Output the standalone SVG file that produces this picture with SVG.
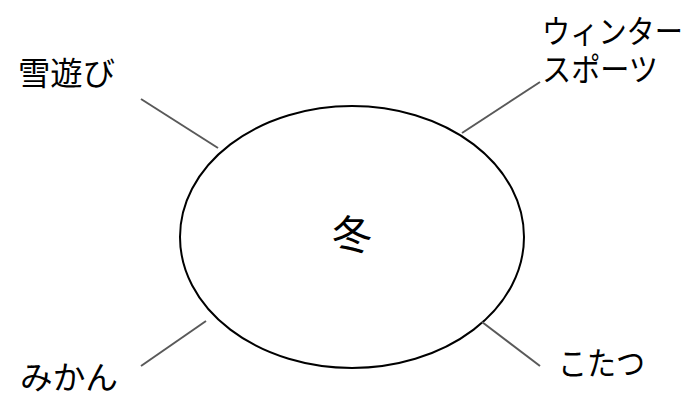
<svg xmlns="http://www.w3.org/2000/svg" width="688" height="396" viewBox="0 0 688 396">
<style>
.lbl{font-family:"Noto Sans CJK JP","Noto Sans",sans-serif;font-size:32px;fill:#000}
.conn line{stroke:#595959;stroke-width:2}
</style>
<rect width="688" height="396" fill="#fff"/>
<g id="winter">
<ellipse cx="352" cy="237" rx="172" ry="131" fill="#fff" stroke="#000" stroke-width="2"/>
<text class="lbl" x="352" y="249" text-anchor="middle" style="font-size:40px">冬</text>
</g>
<g class="conn" id="connectors">
<line x1="141" y1="99" x2="218" y2="148"/>
<line x1="540" y1="82" x2="462" y2="133"/>
<line x1="141" y1="366" x2="206" y2="321"/>
<line x1="482" y1="322" x2="540" y2="366"/>
</g>
<g id="yukiasobi"><text class="lbl" x="18" y="85" textLength="97" lengthAdjust="spacingAndGlyphs">雪遊び</text></g>
<g id="winter-sports"><text class="lbl" x="542" y="43" textLength="141" lengthAdjust="spacingAndGlyphs">ウィンター</text><text class="lbl" x="542" y="81" textLength="116" lengthAdjust="spacingAndGlyphs">スポーツ</text></g>
<g id="mikan"><text class="lbl" x="20" y="389" textLength="98" lengthAdjust="spacingAndGlyphs">みかん</text></g>
<g id="kotatsu"><text class="lbl" x="558" y="375" textLength="87" lengthAdjust="spacingAndGlyphs">こたつ</text></g>
</svg>
